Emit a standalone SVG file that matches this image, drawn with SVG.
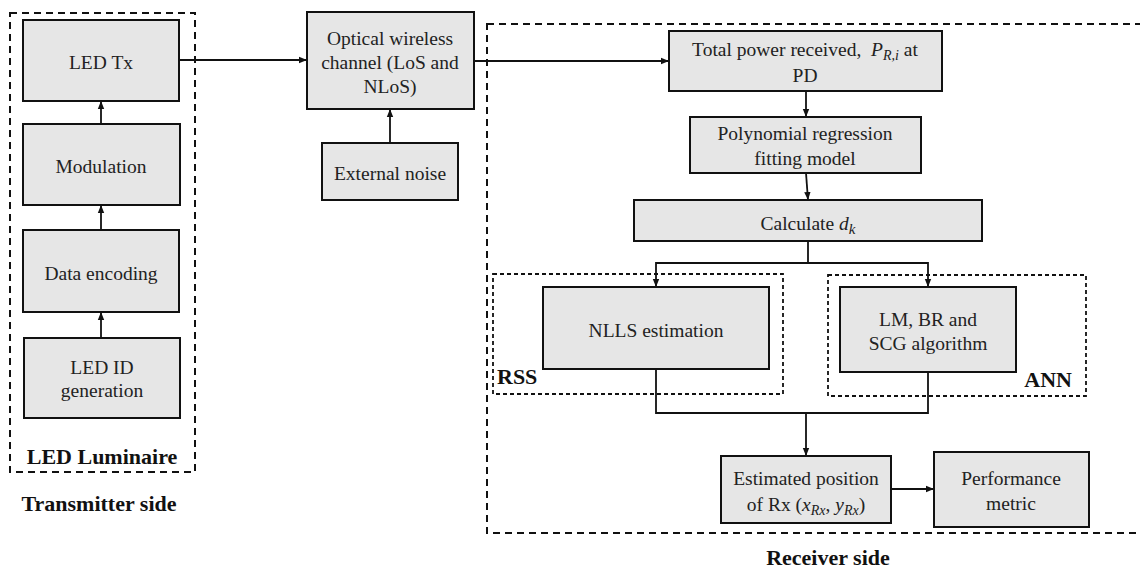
<svg xmlns="http://www.w3.org/2000/svg" width="1140" height="568" viewBox="0 0 1140 568" font-family="'Liberation Serif', 'Times New Roman', 'DejaVu Serif', serif">
<style>
.box{fill:#e6e6e6;stroke:#111;stroke-width:2}
.dash{fill:none;stroke:#111;stroke-width:2;stroke-dasharray:7 5}
.dash2{fill:none;stroke:#111;stroke-width:1.8;stroke-dasharray:4 3}
.t{font-size:19.5px;fill:#222;text-anchor:middle}
.b{font-size:22px;font-weight:bold;fill:#111}
.m{font-style:italic}
.con{fill:none;stroke:#111;stroke-width:1.8}
</style>
<defs>
<marker id="ah" markerUnits="userSpaceOnUse" markerWidth="8" markerHeight="8" viewBox="0 0 8 8" refX="8" refY="4" orient="auto">
<path d="M0,0.8 L8,4 L0,7.2 Z" fill="#111"/>
</marker>
</defs>

<g id="groups">
<rect class="dash" x="10" y="13" width="185" height="459"/>
<rect class="dash" x="487" y="24" width="670" height="509"/>
<rect class="dash2" x="493" y="274" width="290" height="120"/>
<rect class="dash2" x="828" y="275" width="258" height="121"/>
<text class="b" x="102" y="464" text-anchor="middle">LED Luminaire</text>
<text class="b" x="99" y="511" text-anchor="middle">Transmitter side</text>
<text class="b" x="828" y="565" text-anchor="middle">Receiver side</text>
<text class="b" x="497" y="384">RSS</text>
<text class="b" x="1072" y="387" text-anchor="end">ANN</text>
</g>

<g id="connectors">
<line class="con" x1="101" y1="124" x2="101" y2="101" marker-end="url(#ah)"/>
<line class="con" x1="101" y1="230" x2="101" y2="205" marker-end="url(#ah)"/>
<line class="con" x1="101" y1="338" x2="101" y2="312" marker-end="url(#ah)"/>
<line class="con" x1="179" y1="60" x2="307" y2="60" marker-end="url(#ah)"/>
<line class="con" x1="390" y1="143" x2="390" y2="109" marker-end="url(#ah)"/>
<line class="con" x1="474" y1="61" x2="669" y2="61" marker-end="url(#ah)"/>
<line class="con" x1="806" y1="91" x2="806" y2="117" marker-end="url(#ah)"/>
<line class="con" x1="806" y1="173" x2="808" y2="200" marker-end="url(#ah)"/>
<polyline class="con" points="808,241 808,263 656,263 656,287" marker-end="url(#ah)"/>
<polyline class="con" points="808,263 928,263 928,287" marker-end="url(#ah)"/>
<polyline class="con" points="656,369 656,413 928,413 928,372"/>
<line class="con" x1="806" y1="413" x2="806" y2="456" marker-end="url(#ah)"/>
<line class="con" x1="891" y1="489" x2="934" y2="489" marker-end="url(#ah)"/>
</g>

<g id="led-tx">
<rect class="box" x="23" y="20" width="156" height="81"/>
<text class="t" x="101" y="69">LED Tx</text>
</g>
<g id="modulation">
<rect class="box" x="23" y="124" width="157" height="81"/>
<text class="t" x="101" y="173">Modulation</text>
</g>
<g id="data-encoding">
<rect class="box" x="23" y="230" width="156" height="82"/>
<text class="t" x="101" y="280">Data encoding</text>
</g>
<g id="led-id">
<rect class="box" x="24" y="338" width="156" height="80"/>
<text class="t" x="102" y="374">LED ID</text>
<text class="t" x="102" y="397">generation</text>
</g>

<g id="optical-channel">
<rect class="box" x="307" y="12" width="167" height="97"/>
<text class="t" x="390" y="45">Optical wireless</text>
<text class="t" x="390" y="69">channel (LoS and</text>
<text class="t" x="390" y="93">NLoS)</text>
</g>
<g id="external-noise">
<rect class="box" x="322" y="143" width="136" height="57"/>
<text class="t" x="390" y="180">External noise</text>
</g>

<g id="total-power">
<rect class="box" x="669" y="31" width="273" height="60"/>
<text class="t" x="805" y="56" xml:space="preserve">Total power received,  <tspan class="m">P</tspan><tspan class="m" font-size="14" dy="4">R,i</tspan><tspan dy="-4"> at</tspan></text>
<text class="t" x="805" y="82">PD</text>
</g>
<g id="polynomial">
<rect class="box" x="690" y="117" width="231" height="56"/>
<text class="t" x="805" y="140">Polynomial regression</text>
<text class="t" x="805" y="165">fitting model</text>
</g>
<g id="calculate">
<rect class="box" x="634" y="200" width="348" height="41"/>
<text class="t" x="808" y="230" font-size="22">Calculate <tspan class="m">d</tspan><tspan class="m" font-size="15" dy="4">k</tspan></text>
</g>

<g id="nlls">
<rect class="box" x="543" y="287" width="226" height="82"/>
<text class="t" x="656" y="337">NLLS estimation</text>
</g>
<g id="lm-br-scg">
<rect class="box" x="840" y="287" width="176" height="85"/>
<text class="t" x="928" y="326">LM, BR and</text>
<text class="t" x="928" y="350">SCG algorithm</text>
</g>

<g id="estimated-position">
<rect class="box" x="721" y="456" width="170" height="67"/>
<text class="t" x="806" y="485">Estimated position</text>
<text class="t" x="806" y="511">of Rx (<tspan class="m">x</tspan><tspan class="m" font-size="14" dy="4">Rx</tspan><tspan dy="-4">, </tspan><tspan class="m">y</tspan><tspan class="m" font-size="14" dy="4">Rx</tspan><tspan dy="-4">)</tspan></text>
</g>
<g id="performance">
<rect class="box" x="934" y="452" width="155" height="75"/>
<text class="t" x="1011" y="485">Performance</text>
<text class="t" x="1011" y="510">metric</text>
</g>
</svg>
